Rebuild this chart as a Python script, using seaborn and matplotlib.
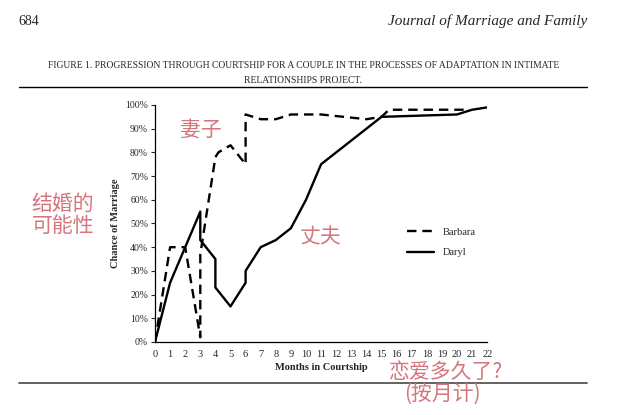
import pandas as pd
import seaborn as sns
import matplotlib.pyplot as plt

# chance of marriage over courtship
barbara_month = [0, 1, 2, 3, 3, 4, 4.2, 5, 6, 6, 7, 8, 9, 11, 14, 15, 15.5, 20.5]
barbara_pct = [0, 40, 40, 2, 37, 78, 80, 83, 75, 96, 94, 94, 96, 96, 94, 95, 98, 98]
daryl_month = [0, 1, 2, 3, 3, 4, 4, 5, 6, 6, 7, 8, 9, 10, 11, 15, 20, 21, 22]
daryl_pct = [0, 25, 40, 55, 43, 35, 23, 15, 25, 30, 40, 43, 48, 60, 75, 95, 96, 98, 99]

x_ticks = list(range(0, 23))
y_ticks = list(range(0, 101, 10))

df = pd.concat([
    pd.DataFrame({'month': barbara_month, 'pct': barbara_pct, 'who': 'Barbara'}),
    pd.DataFrame({'month': daryl_month, 'pct': daryl_pct, 'who': 'Daryl'}),
], ignore_index=True)

sns.set_style('white')
plt.rcParams['font.family'] = ['Liberation Serif', 'DejaVu Serif']

fig = plt.figure(figsize=(6.28, 4.15), dpi=100)
ax = fig.add_axes([0.2468, 0.176, 0.529, 0.571])

sns.lineplot(data=df, x='month', y='pct', hue='who', style='who',
             palette={'Barbara': 'black', 'Daryl': 'black'},
             dashes={'Barbara': (4, 2.5), 'Daryl': ''},
             estimator=None, sort=False, lw=1.7, ax=ax)

ax.set_xlim(0, 22)
ax.set_ylim(0, 100)
ax.set_xticks(x_ticks)
ax.set_xticklabels([str(t) for t in x_ticks], fontsize=7.5)
ax.set_yticks(y_ticks)
ax.set_yticklabels([f'{t}%' for t in y_ticks], fontsize=7)
ax.tick_params(axis='y', left=True, length=3, width=0.8, pad=2)
ax.tick_params(axis='x', bottom=False, pad=2)
ax.set_xlabel('Months in Courtship', fontsize=7.5, fontweight='bold', labelpad=3)
ax.set_ylabel('Chance of Marriage', fontsize=7.5, fontweight='bold', labelpad=4)
sns.despine(ax=ax)
for s in ['left', 'bottom']:
    ax.spines[s].set_linewidth(0.9)
    ax.spines[s].set_color('black')

leg = ax.legend(frameon=False, fontsize=7.5, handlelength=2.6, labelspacing=1.1,
                loc='center left', bbox_to_anchor=(0.73, 0.42))

# page header and caption
fig.text(0.03, 0.94, '684', fontsize=10)
fig.text(0.935, 0.94, 'Journal of Marriage and Family', fontsize=11,
         style='italic', ha='right')
fig.text(0.483, 0.843, 'FIGURE 1. PROGRESSION THROUGH COURTSHIP FOR A COUPLE IN THE '
         'PROCESSES OF ADAPTATION IN INTIMATE', fontsize=6.9, ha='center', va='center')
fig.text(0.483, 0.807, 'RELATIONSHIPS PROJECT.', fontsize=6.9, ha='center', va='center')
fig.add_artist(plt.Line2D([0.03, 0.935], [0.79, 0.79], color='black', lw=1))
fig.add_artist(plt.Line2D([0.03, 0.935], [0.077, 0.077], color='#555555', lw=1.3))

# chinese annotations
cjk = ['Noto Sans CJK SC', 'DejaVu Sans']
pink = '#d4767c'
kw = dict(fontsize=15, color=pink, family=cjk, weight='light', va='center')
fig.text(0.286, 0.687, '妻子', **kw)
fig.text(0.05, 0.509, '结婚的', **kw)
fig.text(0.05, 0.455, '可能性', **kw)
fig.text(0.477, 0.428, '丈夫', **kw)
fig.text(0.62, 0.104, '恋爱多久了?', **kw)
fig.text(0.643, 0.051, '(按月计)', **kw)

fig.savefig('out.png', dpi=100)
